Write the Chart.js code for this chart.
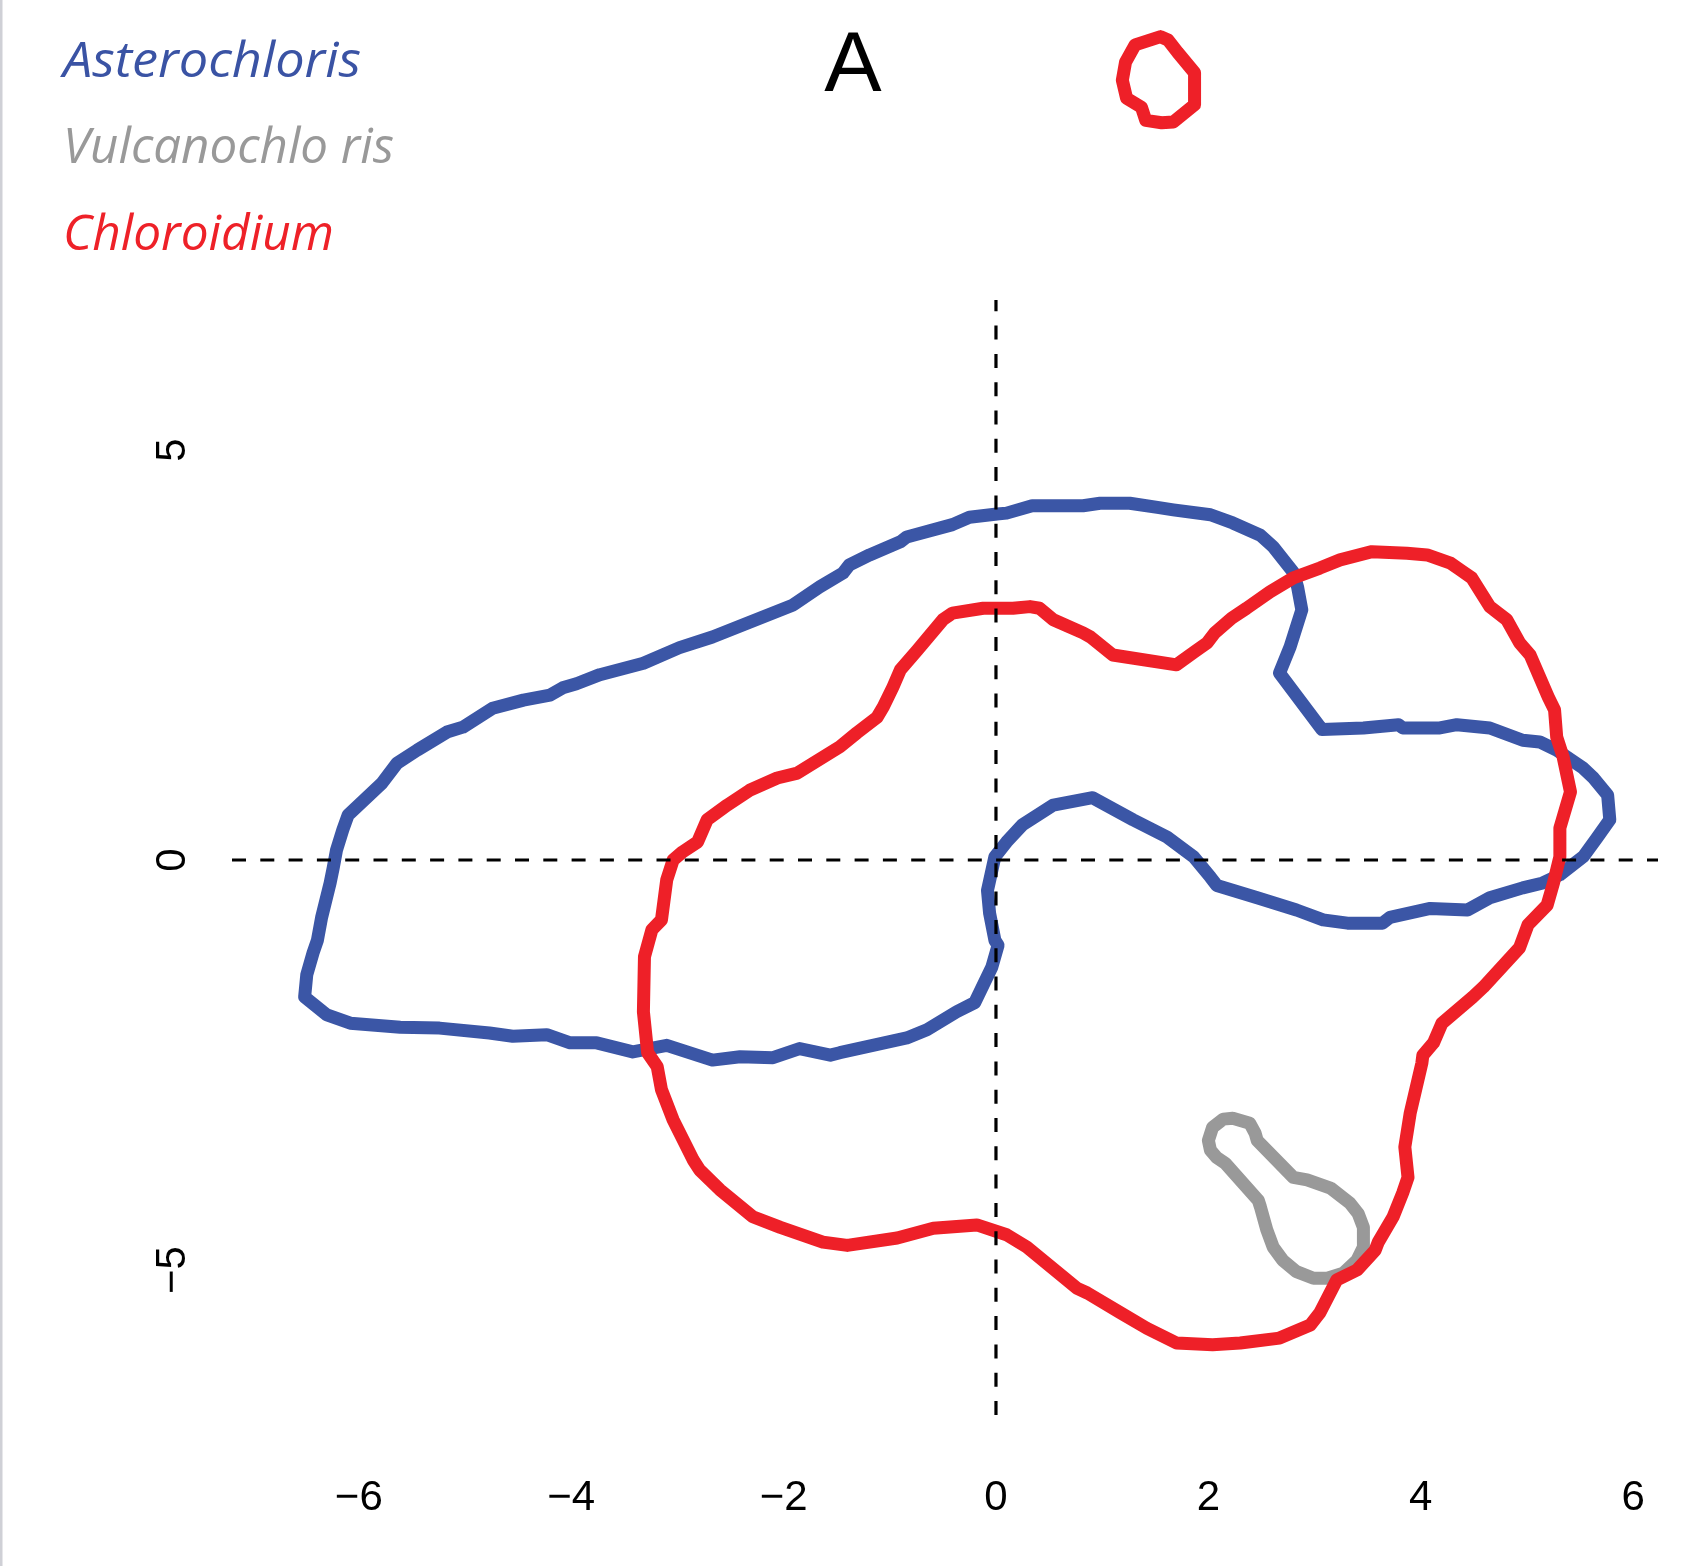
<!DOCTYPE html>
<html>
<head>
<meta charset="utf-8">
<title>A</title>
<script src="https://cdn.jsdelivr.net/npm/chart.js@4.4.1/dist/chart.umd.min.js"></script>
<style>
  html, body { margin: 0; padding: 0; background: #fff; }
  canvas { display: block; }
</style>
</head>
<body>
<canvas id="chart" width="1694" height="1566"></canvas>
<script>
// 坐标范围（R 绘图区域）
const X_MIN = -7.194, X_MAX = 6.234;
const Y_MIN = -6.768, Y_MAX = 6.829;

const xTickValues = [-6, -4, -2, 0, 2, 4, 6];
const yTickValues = [-5, 0, 5];

const panelLabel = 'A';
const legendLabels = ['Asterochloris', 'Vulcanochlo ris', 'Chloroidium'];
const legendColors = ['#3a53a4', '#999999', '#ee2128'];

// Asterochloris 轮廓
const asterochlorisX = [-6.51, -6.49, -6.43, -6.39, -6.35, -6.27, -6.24, -6.21, -6.15, -6.10,
  -5.87, -5.78, -5.64, -5.45, -5.17, -5.02, -4.74, -4.45, -4.20, -4.08,
  -3.95, -3.73, -3.32, -2.98, -2.67, -2.32, -1.91, -1.66, -1.44, -1.38,
  -1.19, -0.90, -0.84, -0.41, -0.25, 0.01, 0.10, 0.34, 0.82, 0.98,
  1.26, 1.52, 1.67, 2.02, 2.23, 2.49, 2.61, 2.80, 2.84, 2.88,
  2.77, 2.67, 3.07, 3.46, 3.79, 3.83, 4.18, 4.34, 4.65, 4.96,
  5.12, 5.28, 5.53, 5.62, 5.76, 5.78, 5.66, 5.53, 5.31, 5.15,
  4.96, 4.65, 4.44, 4.09, 3.71, 3.64, 3.31, 3.08, 2.83, 2.46,
  2.08, 2.02, 1.86, 1.61, 1.29, 0.91, 0.54, 0.25, 0.10, -0.01,
  -0.08, -0.06, -0.01, 0.02, -0.04, -0.20, -0.37, -0.65, -0.84, -1.16,
  -1.47, -1.56, -1.85, -2.10, -2.41, -2.67, -3.10, -3.42, -3.76, -4.01,
  -4.23, -4.55, -4.77, -5.24, -5.61, -6.08, -6.30, -6.51];
const asterochlorisY = [-1.67, -1.40, -1.13, -0.98, -0.70, -0.28, -0.09, 0.12, 0.37, 0.55,
  0.83, 0.94, 1.18, 1.34, 1.56, 1.62, 1.85, 1.95, 2.01, 2.10,
  2.15, 2.26, 2.40, 2.59, 2.72, 2.90, 3.11, 3.33, 3.50, 3.60,
  3.72, 3.88, 3.94, 4.09, 4.18, 4.22, 4.23, 4.32, 4.32, 4.35,
  4.35, 4.30, 4.27, 4.21, 4.11, 3.96, 3.82, 3.51, 3.33, 3.05,
  2.60, 2.28, 1.59, 1.61, 1.65, 1.61, 1.61, 1.65, 1.61, 1.46,
  1.44, 1.34, 1.12, 1.01, 0.79, 0.49, 0.27, 0.04, -0.18, -0.28,
  -0.34, -0.46, -0.61, -0.59, -0.70, -0.77, -0.77, -0.73, -0.61, -0.46,
  -0.31, -0.21, 0.04, 0.28, 0.49, 0.76, 0.67, 0.43, 0.22, 0.04,
  -0.37, -0.65, -0.98, -1.04, -1.31, -1.74, -1.85, -2.07, -2.17, -2.26,
  -2.35, -2.38, -2.30, -2.41, -2.40, -2.44, -2.26, -2.34, -2.23, -2.23,
  -2.13, -2.15, -2.11, -2.05, -2.04, -1.99, -1.89, -1.67];

// Vulcanochloris 轮廓
const vulcanochlorisX = [2.23, 2.39, 2.44, 2.46, 2.80, 2.93, 3.15, 3.33, 3.41, 3.46,
  3.46, 3.40, 3.27, 3.12, 2.99, 2.83, 2.70, 2.61, 2.55, 2.49,
  2.47, 2.16, 2.08, 2.02, 2.00, 2.04, 2.14, 2.23];
const vulcanochlorisY = [-3.15, -3.21, -3.33, -3.42, -3.87, -3.90, -4.00, -4.18, -4.31, -4.48,
  -4.72, -4.88, -5.04, -5.10, -5.10, -5.02, -4.88, -4.72, -4.51, -4.23,
  -4.15, -3.70, -3.63, -3.54, -3.42, -3.26, -3.16, -3.15];

// Chloroidium 主轮廓
const chloroidiumX = [-2.32, -2.53, -2.72, -2.81, -2.95, -3.04, -3.10, -3.15, -3.24, -3.31,
  -3.32, -3.28, -3.19, -3.15, -3.04, -2.85, -2.79, -2.60, -2.29, -2.03,
  -1.63, -1.40, -0.93, -0.59, -0.18, 0.10, 0.29, 0.76, 0.86, 1.17,
  1.42, 1.70, 2.04, 2.30, 2.67, 2.96, 3.05, 3.21, 3.40, 3.57,
  3.60, 3.74, 3.83, 3.88, 3.85, 3.90, 4.01, 4.02, 4.12, 4.20,
  4.49, 4.59, 4.93, 5.01, 5.19, 5.25, 5.31, 5.31, 5.41, 5.34,
  5.28, 5.26, 5.20, 5.03, 4.93, 4.81, 4.65, 4.48, 4.37, 4.28,
  4.06, 3.87, 3.54, 3.24, 3.05, 2.80, 2.58, 2.36, 2.22, 2.06,
  1.99, 1.87, 1.70, 1.10, 0.89, 0.82, 0.54, 0.41, 0.32, 0.16,
  -0.12, -0.41, -0.50, -0.74, -0.90, -0.97, -1.06, -1.12, -1.31, -1.47,
  -1.87, -2.06, -2.32];
const chloroidiumY = [0.85, 0.67, 0.49, 0.22, 0.10, 0.00, -0.24, -0.73, -0.85, -1.18,
  -1.85, -2.35, -2.52, -2.80, -3.17, -3.66, -3.78, -4.02, -4.35, -4.48,
  -4.66, -4.70, -4.61, -4.49, -4.45, -4.57, -4.72, -5.22, -5.28, -5.52,
  -5.71, -5.89, -5.91, -5.89, -5.83, -5.67, -5.52, -5.12, -5.00, -4.76,
  -4.66, -4.35, -4.06, -3.87, -3.50, -3.09, -2.48, -2.38, -2.23, -1.99,
  -1.67, -1.55, -1.07, -0.79, -0.55, -0.28, 0.04, 0.39, 0.83, 1.26,
  1.50, 1.83, 1.99, 2.50, 2.65, 2.93, 3.09, 3.44, 3.54, 3.62,
  3.72, 3.74, 3.76, 3.66, 3.56, 3.44, 3.27, 3.07, 2.95, 2.77,
  2.65, 2.54, 2.38, 2.50, 2.72, 2.77, 2.93, 3.07, 3.09, 3.07,
  3.07, 3.01, 2.93, 2.56, 2.32, 2.11, 1.87, 1.74, 1.55, 1.38,
  1.06, 1.00, 0.85];

// Chloroidium 上方小圈（在绘图区外）
const chloroidiumIsleX = [1.55, 1.31, 1.22, 1.19, 1.23, 1.37, 1.41, 1.56, 1.67, 1.87, 1.87, 1.71, 1.62, 1.55];
const chloroidiumIsleY = [10.04, 9.94, 9.73, 9.51, 9.29, 9.18, 9.02, 8.99, 9.00, 9.21, 9.60, 9.85, 10.00, 10.04];

const BLUE = '#3b56a6';
const GREY = '#999999';
const RED = '#ee2028';

const fmt = (v) => (v < 0 ? '\u2212' + Math.abs(v) : String(v));
const zip = (xs, ys) => xs.map((x, i) => ({ x, y: ys[i] }));

function contour(xs, ys, color) {
  return {
    data: zip(xs, ys),
    showLine: true,
    borderColor: color,
    borderWidth: 13,
    borderJoinStyle: 'round',
    borderCapStyle: 'round',
    pointRadius: 0,
    tension: 0,
    clip: false,
  };
}

function dashed(points) {
  return {
    data: points,
    showLine: true,
    borderColor: '#000',
    borderWidth: 3.2,
    borderDash: [14, 14.3],
    pointRadius: 0,
    tension: 0,
  };
}

// 去掉刻度标签带来的额外边距，保证绘图区位置准确
function noScalePadding(s) {
  s.paddingLeft = 0;
  s.paddingRight = 0;
  s.paddingTop = 0;
  s.paddingBottom = 0;
}

const decorations = {
  id: 'decorations',
  beforeDraw(chart) {
    const c = chart.ctx;
    c.save();
    c.fillStyle = '#fff';
    c.fillRect(0, 0, chart.width, chart.height);
    c.fillStyle = '#cfd0d6';
    c.fillRect(0, 0, 2.5, chart.height);
    c.restore();
  },
  afterDraw(chart) {
    const c = chart.ctx;
    c.save();
    c.fillStyle = '#000';
    c.font = '86px "Liberation Sans", Arial, sans-serif';
    c.textAlign = 'center';
    c.textBaseline = 'alphabetic';
    c.fillText(panelLabel, 853, 91);

    // 图例：斜体文字，按原图宽度压缩
    const baselines = [77, 163, 250];
    const widths = [298, 331, 271];
    c.font = 'italic 50px "Open Sans", sans-serif';
    c.textAlign = 'left';
    legendLabels.forEach((t, i) => {
      const w = c.measureText(t).width;
      c.save();
      c.translate(63, baselines[i]);
      c.scale(widths[i] / w, 1);
      c.fillStyle = legendColors[i];
      c.fillText(t, 0, 0);
      c.restore();
    });
    c.restore();
  },
};

const tickFont = { family: '"Liberation Sans", Arial, Helvetica, sans-serif', size: 42 };

new Chart(document.getElementById('chart').getContext('2d'), {
  type: 'scatter',
  data: {
    datasets: [
      dashed([{ x: X_MIN, y: 0 }, { x: X_MAX, y: 0 }]),
      dashed([{ x: 0, y: Y_MIN }, { x: 0, y: Y_MAX }]),
      contour(chloroidiumX, chloroidiumY, RED),
      contour(chloroidiumIsleX, chloroidiumIsleY, RED),
      contour(vulcanochlorisX, vulcanochlorisY, GREY),
      contour(asterochlorisX, asterochlorisY, BLUE),
    ],
  },
  options: {
    responsive: false,
    animation: false,
    events: [],
    layout: { padding: { top: 300, right: 36, left: 0, bottom: 0 } },
    plugins: { legend: { display: false }, tooltip: { enabled: false }, title: { display: false } },
    scales: {
      x: {
        type: 'linear',
        min: X_MIN,
        max: X_MAX,
        grid: { display: false, drawTicks: false },
        border: { display: false },
        ticks: { font: tickFont, color: '#000', padding: 58, autoSkip: false, callback: fmt },
        afterBuildTicks: (s) => { s.ticks = xTickValues.map((v) => ({ value: v })); },
        afterFit: (s) => { s.height = 151; noScalePadding(s); },
      },
      y: {
        type: 'linear',
        min: Y_MIN,
        max: Y_MAX,
        grid: { display: false, drawTicks: false },
        border: { display: false },
        ticks: {
          font: tickFont, color: '#000', padding: 35, autoSkip: false,
          minRotation: 90, maxRotation: 90, crossAlign: 'center', callback: fmt,
        },
        afterBuildTicks: (s) => { s.ticks = yTickValues.map((v) => ({ value: v })); },
        afterFit: (s) => { s.width = 232; noScalePadding(s); },
      },
    },
  },
  plugins: [decorations],
});
</script>
</body>
</html>
